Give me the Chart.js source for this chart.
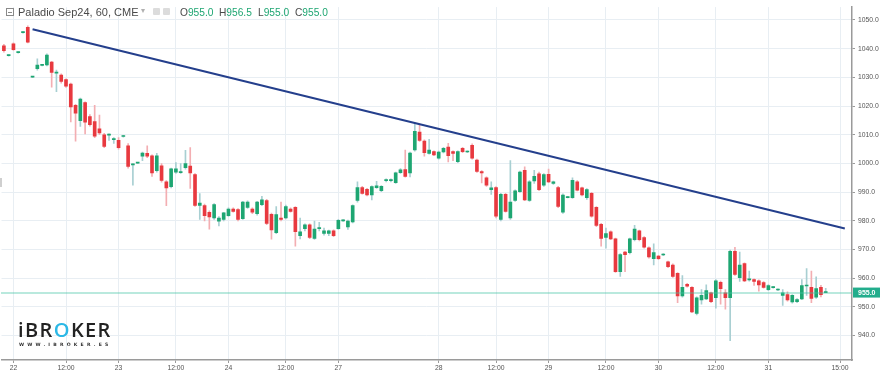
<!DOCTYPE html>
<html>
<head>
<meta charset="utf-8">
<title>Paladio Sep24, 60, CME</title>
<script src="https://cdn.jsdelivr.net/npm/chart.js@4"></script>
<style>
body { margin: 0; background: #fff; }
#wrap { position: relative; width: 886px; height: 375px; overflow: hidden; font-family: "Liberation Sans", Arial, sans-serif; }
#candles { position: absolute; left: 0; top: 0; }
.hd { position: absolute; top: 6px; font-size: 11px; color: #4a4a4a; white-space: nowrap; line-height: 13px; }
.hd.q { font-size: 10.2px; }
.hd .v { color: #1ea672; }
#fold { position: absolute; left: 6px; top: 8px; width: 6px; height: 6px; border: 1px solid #8a8a8a; }
#fold:after { content: ""; position: absolute; left: 1px; top: 2.5px; width: 4px; height: 1px; background: #8a8a8a; }
#caret { position: absolute; left: 141px; top: 6px; font-size: 8px; color: #b0b0b0; }
.ico { position: absolute; top: 8px; width: 7px; height: 7px; background: #dcdcdc; border-radius: 1px; }
#logo { position: absolute; left: 18px; top: 318px; font-family: "Open Sans", sans-serif; font-weight: 600; font-size: 20px; letter-spacing: 1.4px; color: #222; line-height: 24px; }
#logo .o { color: #2bb8e6; }
#web { position: absolute; left: 19px; top: 342px; font-family: "DejaVu Sans", sans-serif; font-weight: bold; font-size: 4.6px; letter-spacing: 3.2px; color: #333; }
#handle { position: absolute; left: 0; top: 178px; width: 2px; height: 9px; background: #cfcfcf; }
</style>
</head>
<body>
<div id="wrap">
<canvas id="candles" width="886" height="375"></canvas>
<div id="fold"></div>
<div class="hd" style="left:18px">Paladio Sep24, 60, CME</div>
<div id="caret">&#9662;</div>
<div class="ico" style="left:153px"></div>
<div class="ico" style="left:163px"></div>
<div class="hd q" style="left:180px">O<span class="v" id="vO"></span></div>
<div class="hd q" style="left:219px">H<span class="v" id="vH"></span></div>
<div class="hd q" style="left:258px">L<span class="v" id="vL"></span></div>
<div class="hd q" style="left:295px">C<span class="v" id="vC"></span></div>
<div id="logo">iBR<span class="o">O</span>KER</div>
<div id="web">WWW.IBROKER.ES</div>
<div id="handle"></div>
</div>
<script>
// hourly candles, 21 May 22:00 -> 31 May 11:00
const opens = [
    1041.0, 1037.6, 1041.7, 1038.6, 1045.6, 1047.4, 1030.1, 1033.0, 1034.2, 1034.3,
    1035.3, 1031.5, 1030.8, 1029.2, 1027.7, 1020.3, 1014.9, 1021.2, 1016.3, 1014.6,
    1012.1, 1010.0, 1009.9, 1008.3, 1008.1, 1009.4, 1006.1, 999.5, 1000.1, 1002.5,
    1003.5, 1002.7, 997.5, 999.2, 993.6, 991.9, 997.0, 996.8, 998.5, 999.1,
    996.1, 985.4, 985.3, 983.0, 981.0, 979.9, 980.5, 981.8, 984.1, 983.9,
    980.8, 984.7, 984.1, 982.5, 985.6, 987.1, 982.3, 975.9, 981.0, 981.0,
    984.1, 984.7, 974.8, 977.3, 978.6, 973.9, 977.3, 975.6, 975.6, 976.5,
    977.3, 980.0, 977.9, 979.6, 987.1, 991.6, 991.0, 989.0, 991.6, 990.5,
    994.0, 994.0, 993.3, 996.8, 997.9, 996.7, 1004.7, 1010.9, 1007.8, 1003.5,
    1004.1, 1001.8, 1004.0, 1005.7, 1004.1, 1000.6, 1005.3, 1004.0, 1006.3, 1001.2,
    997.2, 995.0, 990.9, 991.6, 980.5, 989.2, 981.0, 987.1, 990.2, 997.6,
    987.1, 993.9, 996.4, 992.4, 996.2, 993.0, 991.6, 983.0, 988.1, 988.1,
    993.6, 991.5, 988.1, 989.6, 984.7, 978.8, 974.2, 976.2, 973.7, 962.3,
    969.1, 968.9, 973.4, 976.5, 974.2, 970.6, 966.8, 967.7, 968.1, 965.7,
    964.6, 961.7, 953.8, 957.9, 956.8, 947.7, 952.4, 952.8, 954.9, 953.2,
    958.6, 954.9, 953.2, 969.4, 960.2, 965.1, 959.4, 959.5, 959.1, 958.5,
    956.0, 956.7, 955.9, 954.0, 954.3, 951.7, 951.8, 952.8, 957.3, 956.8,
    953.4, 956.8, 955.0
];
const highs = [
    1041.5, 1037.9, 1042.0, 1038.9, 1045.9, 1048.0, 1030.4, 1036.5, 1034.5, 1038.2,
    1035.6, 1032.5, 1031.2, 1029.5, 1028.0, 1020.6, 1022.8, 1021.5, 1017.0, 1020.3,
    1016.9, 1010.5, 1010.3, 1009.0, 1009.0, 1009.8, 1006.9, 1000.0, 1000.4, 1004.0,
    1006.1, 1003.0, 1003.5, 1000.0, 994.0, 998.4, 1000.3, 1000.0, 1004.6, 1005.5,
    996.5, 989.5, 985.8, 983.5, 986.0, 981.5, 983.0, 984.5, 984.5, 984.3,
    986.8, 987.0, 984.5, 986.8, 988.5, 987.5, 982.7, 985.0, 986.5, 985.5,
    984.5, 985.0, 981.0, 979.0, 979.0, 979.9, 979.5, 977.5, 976.8, 976.9,
    980.5, 980.4, 980.3, 985.6, 993.6, 992.0, 991.3, 992.2, 993.8, 992.3,
    994.6, 994.6, 997.0, 998.2, 1004.7, 1004.0, 1014.0, 1013.5, 1008.2, 1008.4,
    1004.4, 1004.3, 1005.6, 1007.0, 1004.4, 1004.4, 1005.6, 1004.4, 1006.8, 1001.5,
    997.5, 995.3, 993.6, 991.9, 989.6, 989.6, 1001.0, 990.8, 997.3, 998.8,
    994.0, 997.6, 997.0, 996.5, 998.0, 993.9, 992.0, 989.4, 988.5, 995.0,
    994.0, 991.8, 991.2, 989.9, 985.0, 979.1, 977.5, 976.5, 974.0, 968.6,
    969.4, 974.0, 978.4, 976.8, 974.5, 970.9, 972.0, 968.0, 968.6, 966.0,
    965.0, 962.0, 960.9, 958.2, 957.1, 953.5, 956.0, 957.7, 955.2, 959.5,
    959.0, 956.0, 969.8, 970.8, 969.1, 965.4, 962.5, 959.8, 959.4, 958.8,
    957.8, 957.1, 956.3, 956.0, 955.3, 954.3, 952.9, 959.5, 963.4, 962.5,
    960.5, 957.5, 956.5
];
const lows = [
    1038.8, 1037.4, 1039.4, 1038.4, 1045.4, 1042.0, 1029.9, 1032.5, 1034.0, 1034.0,
    1026.6, 1025.0, 1028.0, 1026.5, 1014.5, 1007.8, 1012.9, 1010.3, 1013.0, 1009.0,
    1010.0, 1005.5, 1008.0, 1007.0, 1005.0, 1009.2, 998.4, 992.4, 999.9, 1001.0,
    1002.0, 995.5, 997.0, 993.5, 985.3, 991.5, 996.5, 996.5, 998.0, 991.3,
    985.0, 980.5, 980.0, 977.1, 980.5, 978.2, 980.0, 981.5, 983.0, 980.0,
    980.5, 984.3, 982.5, 982.0, 985.3, 978.7, 973.6, 975.5, 980.0, 980.7,
    983.0, 971.2, 973.7, 976.5, 973.8, 973.5, 976.5, 975.0, 974.8, 974.5,
    977.0, 979.8, 977.0, 979.3, 986.5, 989.3, 988.7, 987.3, 991.3, 990.2,
    993.6, 993.6, 993.0, 996.5, 995.2, 995.3, 1004.3, 1007.7, 1002.5, 1003.2,
    1002.7, 1001.5, 1003.7, 1000.5, 1001.0, 1000.3, 1003.8, 1003.8, 1001.5, 996.9,
    993.2, 992.0, 989.2, 981.0, 980.0, 983.0, 980.5, 986.8, 989.9, 987.0,
    986.8, 993.0, 990.5, 992.0, 993.3, 992.7, 984.6, 982.6, 988.0, 987.8,
    990.4, 988.7, 987.5, 981.3, 978.0, 971.2, 970.5, 973.4, 962.0, 960.6,
    962.3, 968.5, 973.0, 973.0, 970.5, 967.0, 964.6, 966.5, 967.9, 963.7,
    960.3, 951.5, 953.4, 956.9, 948.0, 947.2, 951.0, 952.5, 951.5, 949.6,
    951.0, 949.2, 938.2, 961.0, 958.9, 958.8, 959.0, 957.5, 955.5, 956.5,
    955.7, 956.5, 955.7, 950.5, 952.0, 951.3, 951.5, 952.5, 954.0, 951.5,
    953.0, 953.5, 955.0
];
const closes = [
    1039.3, 1037.8, 1039.7, 1038.7, 1045.7, 1042.3, 1030.2, 1034.3, 1034.3, 1037.8,
    1031.7, 1031.8, 1028.6, 1026.9, 1019.7, 1017.5, 1022.4, 1014.4, 1013.5, 1009.5,
    1010.6, 1005.9, 1010.0, 1008.4, 1005.5, 1009.5, 999.0, 999.6, 1000.2, 1003.6,
    1002.5, 996.7, 1002.7, 994.1, 991.5, 998.1, 998.1, 996.9, 1000.0, 996.7,
    985.4, 986.2, 981.8, 981.4, 985.7, 981.0, 982.8, 984.1, 983.3, 980.5,
    986.5, 986.5, 983.0, 986.5, 987.3, 979.1, 976.8, 982.2, 980.5, 985.0,
    983.3, 976.2, 976.2, 978.6, 974.2, 977.1, 977.4, 976.5, 976.5, 974.8,
    980.2, 980.1, 979.9, 985.3, 991.6, 989.6, 989.0, 991.9, 992.2, 992.0,
    994.1, 994.1, 996.7, 997.8, 995.5, 1003.6, 1011.2, 1008.0, 1003.8, 1004.7,
    1003.0, 1004.0, 1005.3, 1002.7, 1003.5, 1004.1, 1004.1, 1004.1, 1001.8, 997.2,
    996.7, 992.4, 991.5, 981.6, 989.2, 983.3, 986.5, 990.5, 997.0, 987.3,
    993.6, 995.5, 990.9, 996.1, 993.6, 993.6, 985.0, 989.0, 988.2, 994.1,
    990.7, 989.0, 990.9, 981.6, 978.4, 973.9, 975.6, 973.7, 962.3, 968.2,
    968.2, 973.7, 977.1, 973.4, 970.8, 967.4, 968.9, 966.8, 968.2, 964.0,
    960.6, 953.8, 956.8, 957.2, 948.3, 953.2, 954.0, 955.7, 951.8, 959.1,
    956.4, 953.2, 969.4, 961.3, 964.6, 959.1, 959.5, 958.9, 957.7, 956.8,
    957.4, 956.8, 956.0, 954.9, 952.4, 954.0, 952.6, 957.4, 957.5, 953.0,
    956.4, 954.3, 955.0
];

// time axis: one slot per hour, day sessions 00:00-22:00
const slotCount = 178;
const xTickIdx = [2, 13, 24, 36, 47, 59, 70, 91, 103, 114, 126, 137, 149, 160, 175];
const xTickText = ['22', '12:00', '23', '12:00', '24', '12:00', '27', '28', '12:00', '29', '12:00', '30', '12:00', '31', '15:00'];
const yTicks = [940, 950, 960, 970, 980, 990, 1000, 1010, 1020, 1030, 1040, 1050];

// hand drawn trend line
const trendIdx = [6, 176];
const trendVals = [1046.8, 977.3];

const upColor = '#1ea672';
const downColor = '#e8393f';
const upWick = '#a8cfd2';
const downWick = '#f3aeb2';

const last = closes.length - 1;
document.getElementById('vO').textContent = opens[last].toFixed(1);
document.getElementById('vH').textContent = highs[last].toFixed(1);
document.getElementById('vL').textContent = lows[last].toFixed(1);
document.getElementById('vC').textContent = closes[last].toFixed(1);

const slots = Array.from({ length: slotCount }, (_, i) => String(i));
const trendData = slots.map((_, i) => {
    const k = trendIdx.indexOf(i);
    return k >= 0 ? trendVals[k] : null;
});
const isUp = i => closes[i] >= opens[i];

// dotted last price line + price tag on the axis
const lastPricePlugin = {
    id: 'lastPrice',
    afterDatasetsDraw(chart) {
        const { ctx, chartArea, scales } = chart;
        const y = Math.round(scales.y.getPixelForValue(closes[last]));
        ctx.save();
        ctx.strokeStyle = '#45c4a5';
        ctx.lineWidth = 1.5;
        ctx.setLineDash([1, 1]);
        ctx.beginPath();
        ctx.moveTo(chartArea.left, y);
        ctx.lineTo(chartArea.right, y);
        ctx.stroke();
        ctx.restore();
    },
    afterDraw(chart) {
        const { ctx, chartArea, scales } = chart;
        const y = scales.y.getPixelForValue(closes[last]);
        ctx.save();
        ctx.fillStyle = '#22ad8c';
        ctx.fillRect(chartArea.right + 1, y - 5, 27, 10);
        ctx.fillStyle = '#fff';
        ctx.font = 'bold 7px "Liberation Sans", Arial, sans-serif';
        ctx.textBaseline = 'middle';
        ctx.fillText(closes[last].toFixed(1), chartArea.right + 6, y + 0.5);
        ctx.restore();
    }
};

const ctx = document.getElementById('candles').getContext('2d');
const chart = new Chart(ctx, {
    type: 'bar',
    data: {
        labels: slots,
        datasets: [
            {
                type: 'line',
                label: 'Tendencia',
                data: trendData,
                spanGaps: true,
                borderColor: '#243f8c',
                borderWidth: 2,
                pointRadius: 0,
                order: 0
            },
            {
                label: 'Cuerpo',
                data: opens.map((o, i) => [o, closes[i]]),
                backgroundColor: c => isUp(c.dataIndex) ? upColor : downColor,
                barThickness: 3,
                minBarLength: 1,
                grouped: false,
                order: 1
            },
            {
                label: 'Mecha',
                data: lows.map((l, i) => [l, highs[i]]),
                backgroundColor: c => isUp(c.dataIndex) ? upWick : downWick,
                barThickness: 1,
                grouped: false,
                order: 2
            }
        ]
    },
    options: {
        responsive: false,
        animation: false,
        events: [],
        layout: { padding: { left: 1.5, top: 0, right: 0, bottom: 0 } },
        plugins: {
            legend: { display: false },
            tooltip: { enabled: false }
        },
        scales: {
            x: {
                type: 'category',
                offset: true,
                afterBuildTicks: scale => {
                    scale.ticks = xTickIdx.map(v => ({ value: v }));
                },
                afterFit: scale => { scale.height = 15; },
                ticks: {
                    autoSkip: false,
                    maxRotation: 0,
                    padding: 1,
                    color: '#555',
                    font: { size: 6.8, family: '"Liberation Sans", Arial, sans-serif' },
                    callback: v => xTickText[xTickIdx.indexOf(v)]
                },
                grid: {
                    offset: false,
                    color: '#e8eef3',
                    tickColor: '#9a9a9a',
                    tickLength: 3
                },
                border: { color: '#9a9a9a', width: 1.5 }
            },
            y: {
                position: 'right',
                min: 931.5,
                max: 1054.5,
                afterBuildTicks: scale => {
                    scale.ticks = yTicks.map(v => ({ value: v }));
                },
                afterFit: scale => { scale.width = 34; },
                ticks: {
                    padding: 3,
                    color: '#555',
                    font: { size: 6.8, family: '"Liberation Sans", Arial, sans-serif' },
                    callback: v => v.toFixed(1)
                },
                grid: {
                    color: '#e8eef3',
                    tickColor: '#9a9a9a',
                    tickLength: 3
                },
                border: { color: '#9a9a9a', width: 1.5 }
            }
        }
    },
    plugins: [lastPricePlugin]
});
</script>
</body>
</html>
